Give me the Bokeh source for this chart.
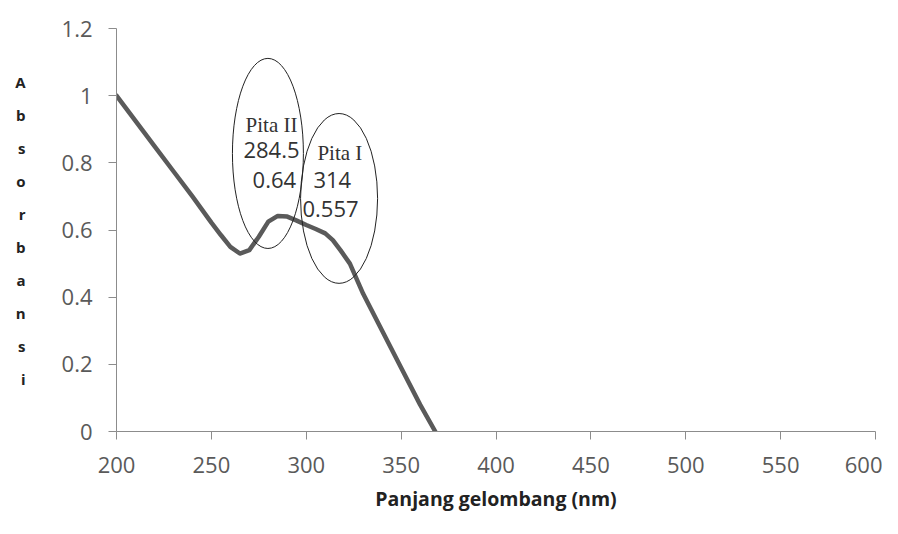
from bokeh.plotting import figure
from bokeh.models import Label, FixedTicker, NumeralTickFormatter, Range1d
from bokeh.embed import file_html
from bokeh.resources import INLINE

# data
wavelength = [200, 210, 220, 230, 240, 250, 255, 260, 265, 270, 275, 280, 285,
              290, 295, 300, 305, 310, 314, 318, 323, 330, 340, 350, 360, 368]
absorbance = [1.0, 0.925, 0.85, 0.775, 0.70, 0.622, 0.585, 0.55, 0.53, 0.54,
              0.58, 0.625, 0.642, 0.64, 0.628, 0.615, 0.603, 0.59, 0.57, 0.54,
              0.50, 0.41, 0.30, 0.19, 0.08, 0.0]
x_ticks = [200, 250, 300, 350, 400, 450, 500, 550, 600]
y_ticks = [0, 0.2, 0.4, 0.6, 0.8, 1.0, 1.2]

# annotation bands
band_names = ["Pita II", "Pita I"]
band_wl = ["284.5", "314"]
band_abs = ["0.64", "0.557"]
ellipse_x = [279.8, 317.3]
ellipse_y = [0.828, 0.694]
ellipse_w = [37.4, 40.6]
ellipse_h = [0.566, 0.506]

y_title = "Absorbansi"
x_title = "Panjang gelombang (nm)"

p = figure(width=882, height=526, output_backend="svg", toolbar_location=None,
           x_range=Range1d(200, 600), y_range=Range1d(0, 1.2),
           min_border_left=116, min_border_right=7, min_border_top=28,
           min_border_bottom=95)
p.outline_line_color = None
p.xgrid.visible = False
p.ygrid.visible = False
p.background_fill_color = "white"

axis_color = "#8c8c8c"
label_color = "#5a5a5a"
for ax in (p.xaxis[0], p.yaxis[0]):
    ax.axis_line_color = axis_color
    ax.major_tick_line_color = axis_color
    ax.major_tick_out = 8
    ax.major_tick_in = 0
    ax.minor_tick_line_color = None
    ax.major_label_text_font = "Open Sans"
    ax.major_label_text_font_size = "22px"
    ax.major_label_text_color = label_color

p.xaxis.ticker = FixedTicker(ticks=x_ticks)
p.yaxis.ticker = FixedTicker(ticks=y_ticks)
p.yaxis.formatter = NumeralTickFormatter(format="0.[0]")
p.xaxis.major_label_standoff = 17
p.yaxis.major_label_standoff = 16

p.xaxis.axis_label = x_title
p.xaxis.axis_label_text_font = "Open Sans"
p.xaxis.axis_label_text_font_style = "bold"
p.xaxis.axis_label_text_font_size = "19.5px"
p.xaxis.axis_label_text_color = "#222222"
p.xaxis.axis_label_standoff = 9

p.yaxis.axis_label = "\n".join(y_title)
p.yaxis.axis_label_orientation = "horizontal"
p.yaxis.axis_label_text_font = "Open Sans"
p.yaxis.axis_label_text_font_style = "bold"
p.yaxis.axis_label_text_font_size = "15px"
p.yaxis.axis_label_text_line_height = 1.65
p.yaxis.axis_label_text_color = "#222222"
p.yaxis.axis_label_standoff = 33

p.line(wavelength, absorbance, line_color="#5a5a5a", line_width=4.5,
       line_join="round", line_cap="round")

p.ellipse(x=ellipse_x, y=ellipse_y, width=ellipse_w, height=ellipse_h,
          fill_color=None, line_color="#222222", line_width=1)

serif = "Liberation Serif"
sans = "Open Sans"
txt_color = "#333333"
# Pita II texts
p.add_layout(Label(x=268.0, y=0.914, text=band_names[0], text_font=serif,
                   text_font_size="21px", text_color=txt_color, text_baseline="middle"))
p.add_layout(Label(x=266.9, y=0.837, text=band_wl[0], text_font=sans,
                   text_font_size="22px", text_color=txt_color, text_baseline="middle"))
p.add_layout(Label(x=271.7, y=0.750, text=band_abs[0], text_font=sans,
                   text_font_size="22px", text_color=txt_color, text_baseline="middle"))
# Pita I texts
p.add_layout(Label(x=305.9, y=0.828, text=band_names[1], text_font=serif,
                   text_font_size="21px", text_color=txt_color, text_baseline="middle"))
p.add_layout(Label(x=303.8, y=0.750, text=band_wl[1], text_font=sans,
                   text_font_size="22px", text_color=txt_color, text_baseline="middle"))
p.add_layout(Label(x=298.0, y=0.664, text=band_abs[1], text_font=sans,
                   text_font_size="22px", text_color=txt_color, text_baseline="middle"))

open("out.html", "w").write(file_html(p, INLINE))
